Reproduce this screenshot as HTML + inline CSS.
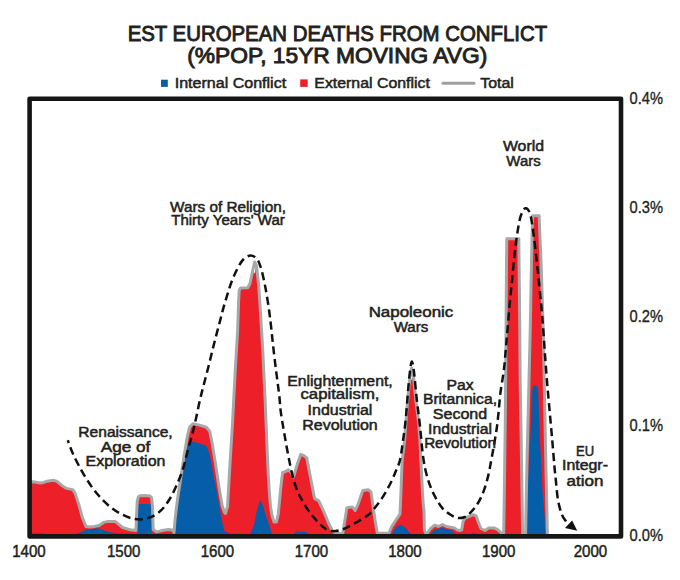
<!DOCTYPE html>
<html><head><meta charset="utf-8"><style>
html,body{margin:0;padding:0;background:#fff;}
svg{display:block;font-family:"Liberation Sans", sans-serif;}
</style></head><body>
<svg width="680" height="580" viewBox="0 0 680 580">
<rect width="680" height="580" fill="#fff"/>
<polygon points="30.0,535.5 30.0,482.0 33.0,481.8 40.1,483.0 43.7,482.4 47.3,481.2 53.3,480.2 57.0,481.4 61.8,485.4 66.6,488.4 72.7,489.6 75.1,493.2 78.7,504.1 82.3,517.4 85.9,526.4 90.0,527.0 94.5,526.5 99.1,525.5 103.5,522.4 107.2,521.6 115.3,521.6 118.2,523.9 122.6,527.5 130.0,529.7 135.9,530.5 137.2,501.5 138.5,496.5 140.0,495.7 145.0,495.5 150.0,496.1 151.5,497.5 152.5,506.5 153.2,529.5 156.5,531.9 162.4,530.5 168.2,529.5 172.5,530.0 174.0,532.4 175.1,519.0 177.3,501.0 180.7,478.7 184.0,456.3 187.4,436.1 189.6,427.2 193.0,423.8 198.6,424.9 206.4,427.2 209.8,431.6 212.0,442.8 215.4,463.0 218.7,485.4 222.1,505.5 224.3,512.2 225.5,513.5 227.5,506.5 230.0,464.0 232.6,421.5 235.2,371.5 237.6,331.5 238.6,301.5 239.2,290.5 240.5,288.0 247.8,287.7 250.0,283.5 252.5,271.5 254.7,273.3 256.4,265.5 258.5,283.5 259.8,301.5 262.8,351.5 265.2,401.5 266.0,421.5 267.0,446.5 268.3,475.5 269.3,491.5 270.5,506.5 272.0,515.5 274.0,522.0 276.5,522.0 278.3,513.9 280.9,486.3 282.6,472.5 285.2,471.7 288.6,469.9 291.5,473.0 293.5,477.0 297.5,463.5 300.7,454.4 303.3,455.3 306.7,457.9 310.2,476.0 314.5,498.4 318.8,501.0 324.0,512.2 329.1,524.3 332.6,531.2 335.0,532.9 341.6,534.0 342.8,533.3 346.9,507.7 352.4,507.1 355.2,510.5 358.0,504.3 362.8,490.5 368.3,489.8 371.0,491.9 373.1,507.1 375.2,520.9 377.3,533.3 389.0,533.3 391.8,526.4 397.3,518.1 400.0,514.0 400.8,496.0 402.1,461.5 404.5,441.5 407.5,401.5 410.0,376.5 411.6,380.0 413.5,376.5 416.0,401.5 418.5,421.5 420.0,441.5 421.7,477.5 423.0,501.5 424.0,511.5 424.4,530.3 426.2,534.8 430.6,528.5 434.6,525.2 438.5,526.5 442.5,524.5 446.5,526.5 450.4,527.2 454.4,527.9 457.0,529.9 459.7,530.5 461.7,529.9 463.0,521.9 465.0,518.0 470.3,516.0 473.0,514.7 476.2,516.0 478.2,521.9 480.9,528.5 484.9,530.5 488.8,527.9 494.1,527.9 498.0,529.9 500.7,532.5 502.7,533.9 503.7,534.5 504.5,481.5 505.5,401.5 506.0,336.5 506.5,261.5 506.8,238.8 518.8,238.8 519.5,301.5 520.2,381.5 521.5,461.5 522.6,534.5 525.6,534.5 527.0,461.5 528.5,401.5 530.2,331.5 531.5,261.5 532.6,215.8 539.1,215.8 541.0,261.5 543.3,331.5 544.6,401.5 545.8,461.5 547.4,534.5 547.4,535.5" fill="#ed1f28"/>
<polygon points="30.0,535.5 30.0,533.0 40.0,533.0 45.0,534.0 72.0,534.5 76.3,534.0 80.0,532.6 84.7,530.3 87.4,529.7 97.6,528.2 102.0,529.7 109.4,531.9 118.2,533.4 135.9,534.1 137.6,534.0 138.2,504.0 150.8,504.0 151.5,534.0 157.0,534.0 174.0,534.0 175.0,530.9 175.6,517.5 177.6,499.5 181.0,477.2 184.3,454.8 186.8,445.0 190.7,441.3 196.3,442.5 206.4,445.8 209.8,454.8 213.1,472.7 216.5,490.6 219.8,508.5 222.1,521.9 224.3,530.9 230.0,533.8 250.0,534.0 254.0,525.0 257.0,510.0 259.5,502.0 261.0,500.3 263.0,506.0 265.3,514.1 269.7,526.2 272.2,535.0 293.0,535.0 295.0,532.5 297.0,531.5 305.0,531.5 307.0,532.5 309.0,535.0 390.5,535.0 392.4,533.0 396.3,527.0 400.0,525.0 401.7,525.0 405.6,528.0 407.2,529.7 410.8,534.0 430.7,534.0 433.2,531.0 437.2,529.0 442.5,527.7 446.5,529.0 451.8,530.4 455.0,533.7 470.0,534.0 473.0,532.5 477.0,534.0 525.4,534.0 526.2,515.0 527.5,490.0 529.0,460.0 530.3,440.0 531.5,406.0 532.3,390.0 533.5,385.5 537.0,385.5 538.2,390.0 538.7,406.0 539.9,440.0 541.0,460.0 542.4,490.0 544.5,515.0 545.6,534.0 545.6,535.5" fill="#065da8"/>
<polyline points="30.0,482.0 33.0,481.8 40.1,483.0 43.7,482.4 47.3,481.2 53.3,480.2 57.0,481.4 61.8,485.4 66.6,488.4 72.7,489.6 75.1,493.2 78.7,504.1 82.3,517.4 85.9,526.4 90.0,527.0 94.5,526.5 99.1,525.5 103.5,522.4 107.2,521.6 115.3,521.6 118.2,523.9 122.6,527.5 130.0,529.7 135.9,530.5 137.2,501.5 138.5,496.5 140.0,495.7 145.0,495.5 150.0,496.1 151.5,497.5 152.5,506.5 153.2,529.5 156.5,531.9 162.4,530.5 168.2,529.5 172.5,530.0 174.0,532.4 175.1,519.0 177.3,501.0 180.7,478.7 184.0,456.3 187.4,436.1 189.6,427.2 193.0,423.8 198.6,424.9 206.4,427.2 209.8,431.6 212.0,442.8 215.4,463.0 218.7,485.4 222.1,505.5 224.3,512.2 225.5,513.5 227.5,506.5 230.0,464.0 232.6,421.5 235.2,371.5 237.6,331.5 238.6,301.5 239.2,290.5 240.5,288.0 247.8,287.7 250.0,283.5 252.5,271.5 254.7,262.0 256.4,265.5 258.5,283.5 259.8,301.5 262.8,351.5 265.2,401.5 266.0,421.5 267.0,446.5 268.3,475.5 269.3,491.5 270.5,506.5 272.0,515.5 274.0,522.0 276.5,522.0 278.3,513.9 280.9,486.3 282.6,472.5 285.2,471.7 288.6,469.9 291.5,473.0 293.5,477.0 297.5,463.5 300.7,454.4 303.3,455.3 306.7,457.9 310.2,476.0 314.5,498.4 318.8,501.0 324.0,512.2 329.1,524.3 332.6,531.2 335.0,532.9 341.6,534.0 342.8,533.3 346.9,507.7 352.4,507.1 355.2,510.5 358.0,504.3 362.8,490.5 368.3,489.8 371.0,491.9 373.1,507.1 375.2,520.9 377.3,533.3 389.0,533.3 391.8,526.4 397.3,518.1 400.0,514.0 400.8,496.0 402.1,461.5 404.5,441.5 407.5,401.5 410.0,376.5 411.6,368.0 413.5,376.5 416.0,401.5 418.5,421.5 420.0,441.5 421.7,477.5 423.0,501.5 424.0,511.5 424.4,530.3 426.2,534.8 430.6,528.5 434.6,525.2 438.5,526.5 442.5,524.5 446.5,526.5 450.4,527.2 454.4,527.9 457.0,529.9 459.7,530.5 461.7,529.9 463.0,521.9 465.0,518.0 470.3,516.0 473.0,514.7 476.2,516.0 478.2,521.9 480.9,528.5 484.9,530.5 488.8,527.9 494.1,527.9 498.0,529.9 500.7,532.5 502.7,533.9 503.7,534.5 504.5,481.5 505.5,401.5 506.0,336.5 506.5,261.5 506.8,238.8 518.8,238.8 519.5,301.5 520.2,381.5 521.5,461.5 522.6,534.5 525.6,534.5 527.0,461.5 528.5,401.5 530.2,331.5 531.5,261.5 532.6,215.8 539.1,215.8 541.0,261.5 543.3,331.5 544.6,401.5 545.8,461.5 547.4,534.5" fill="none" stroke="#a8a8a8" stroke-width="3" stroke-linejoin="round"/>
<path d="M566.0,521.5 C565.3,520.2 563.0,517.5 561.7,514.0 C560.4,510.5 559.1,506.0 558.1,500.7 C557.1,495.4 556.6,487.9 556.0,482.0 C555.4,476.1 554.9,472.0 554.3,465.0 C553.7,458.0 553.0,448.7 552.2,440.0 C551.5,431.3 550.6,422.0 549.8,412.8 C549.0,403.6 548.1,394.2 547.3,385.0 C546.5,375.8 545.9,366.7 545.2,357.6 C544.5,348.5 544.0,339.3 543.3,330.3 C542.6,321.3 542.1,314.2 541.1,303.7 C540.1,293.2 538.6,278.8 537.4,267.5 C536.2,256.2 535.0,245.0 533.8,236.1 C532.6,227.2 531.6,218.9 530.2,214.3 C528.8,209.7 527.0,207.9 525.4,208.3 C523.8,208.7 521.9,212.1 520.5,216.7 C519.1,221.3 517.9,229.6 516.9,236.1 C515.9,242.6 515.3,248.2 514.5,255.4 C513.7,262.6 512.9,271.4 512.1,279.5 C511.3,287.6 510.5,295.3 509.7,303.7 C508.9,312.1 508.2,322.2 507.5,330.0 C506.8,337.8 506.3,343.8 505.7,350.7 C505.1,357.6 504.6,364.6 503.7,371.5 C502.8,378.4 501.4,385.3 500.5,392.2 C499.6,399.1 499.2,406.6 498.5,412.9 C497.8,419.2 497.4,424.1 496.5,430.0 C495.6,435.9 494.3,443.4 493.4,448.6 C492.5,453.8 492.0,456.3 491.1,461.0 C490.2,465.7 489.3,471.4 488.0,476.6 C486.7,481.8 485.1,487.5 483.3,492.1 C481.5,496.8 479.4,500.9 477.1,504.5 C474.8,508.1 471.3,511.8 469.3,513.9 C467.3,516.0 466.9,516.3 465.0,517.0 C463.1,517.7 460.3,518.3 458.0,518.0 C455.7,517.7 453.6,516.6 451.0,515.0 C448.4,513.4 445.0,511.0 442.6,508.4 C440.2,505.8 438.2,502.2 436.4,499.1 C434.6,496.0 433.1,493.2 431.7,489.8 C430.3,486.4 429.0,482.8 427.8,478.9 C426.6,475.0 425.6,471.1 424.7,466.5 C423.8,461.9 423.0,456.2 422.4,451.0 C421.8,445.8 421.4,440.7 420.9,435.5 C420.4,430.3 420.0,426.0 419.3,420.0 C418.6,414.0 417.7,407.5 416.8,399.5 C415.9,391.5 414.8,378.3 414.0,372.0 C413.2,365.7 412.5,361.6 411.8,361.6 C411.1,361.6 410.5,367.1 409.9,372.0 C409.3,376.9 408.7,383.5 408.0,391.3 C407.3,399.1 406.6,410.6 405.8,418.8 C405.0,427.1 404.0,433.9 403.0,440.8 C402.0,447.7 401.2,455.0 400.0,460.0 C398.8,465.0 397.5,467.1 395.9,471.0 C394.3,474.9 392.5,479.4 390.4,483.5 C388.3,487.6 385.8,492.2 383.5,495.9 C381.2,499.6 378.9,502.6 376.6,505.6 C374.3,508.6 372.2,511.5 369.7,513.8 C367.2,516.1 364.4,517.5 361.4,519.4 C358.4,521.2 354.8,523.3 351.8,524.9 C348.8,526.5 346.3,528.0 343.5,529.0 C340.7,530.0 338.0,531.0 335.2,531.1 C332.4,531.2 329.9,531.3 326.9,529.7 C323.9,528.1 321.2,525.8 317.4,521.5 C313.6,517.2 308.1,511.2 304.0,503.8 C299.9,496.4 296.7,491.4 293.0,477.4 C289.3,463.4 284.3,433.7 282.0,420.0 C279.7,406.3 280.2,403.3 279.2,395.0 C278.2,386.7 277.1,378.7 276.0,370.0 C274.9,361.3 273.6,350.4 272.8,343.0 C272.0,335.6 271.6,331.1 271.0,325.9 C270.4,320.7 270.0,317.2 269.3,312.0 C268.6,306.8 267.6,300.0 266.7,294.8 C265.8,289.6 265.1,285.6 264.1,281.0 C263.1,276.4 261.9,270.8 260.7,267.2 C259.5,263.6 258.8,261.1 257.2,259.2 C255.5,257.2 253.1,255.5 250.8,255.5 C248.6,255.5 245.9,256.8 243.7,259.0 C241.5,261.2 239.5,264.7 237.5,268.5 C235.5,272.3 233.3,277.3 231.5,282.0 C229.7,286.7 228.2,291.9 226.8,296.5 C225.4,301.1 224.2,304.9 223.0,309.3 C221.8,313.7 220.9,317.7 219.5,323.0 C218.1,328.3 216.3,334.8 214.7,341.3 C213.0,347.8 211.3,355.1 209.6,362.0 C207.9,368.9 205.9,376.5 204.3,382.7 C202.7,388.9 201.5,393.2 200.1,399.2 C198.7,405.2 197.2,413.1 195.9,418.9 C194.6,424.7 193.7,428.8 192.3,434.1 C190.9,439.4 189.2,445.1 187.7,450.6 C186.2,456.1 185.2,461.6 183.5,467.1 C181.8,472.6 179.8,478.0 177.4,483.5 C175.0,489.0 172.2,495.2 169.1,500.0 C166.0,504.8 162.6,509.3 158.8,512.4 C155.0,515.5 150.6,517.4 146.5,518.5 C142.4,519.6 138.2,519.6 134.1,518.9 C130.0,518.2 125.9,516.5 121.8,514.4 C117.7,512.3 113.5,509.6 109.4,506.2 C105.3,502.8 100.9,498.3 97.1,493.8 C93.3,489.3 89.9,484.2 86.8,479.4 C83.7,474.6 80.9,469.5 78.5,465.0 C76.1,460.5 74.2,456.7 72.4,452.6 C70.6,448.5 68.6,442.4 67.8,440.3" fill="none" stroke="#111" stroke-width="2.5" stroke-dasharray="8 4.5"/>
<polygon points="565,528.1 572.1,520.4 577.3,530.7" fill="#111"/>
<path d="M29.6,536.4 V98.7 H621 V536.4 Z" fill="none" stroke="#161616" stroke-width="4.6" stroke-linejoin="round"/>
<text x="337.4" y="41.2" font-size="21.3" text-anchor="middle" fill="#231f20" stroke="#231f20" stroke-width="0.9" textLength="419.5" lengthAdjust="spacingAndGlyphs">EST EUROPEAN DEATHS FROM CONFLICT</text>
<text x="337.3" y="62.6" font-size="21.3" text-anchor="middle" fill="#231f20" stroke="#231f20" stroke-width="0.9" textLength="300" lengthAdjust="spacingAndGlyphs">(%POP, 15YR MOVING AVG)</text>
<rect x="161" y="79.7" width="6.8" height="7.2" fill="#065da8"/>
<text x="174.7" y="87.6" font-size="14" text-anchor="start" fill="#231f20" stroke="#231f20" stroke-width="0.5" textLength="111.5" lengthAdjust="spacingAndGlyphs">Internal Conflict</text>
<rect x="300.2" y="79.4" width="7.5" height="7.5" fill="#ed1f28"/>
<text x="314.3" y="87.6" font-size="14" text-anchor="start" fill="#231f20" stroke="#231f20" stroke-width="0.5" textLength="115.6" lengthAdjust="spacingAndGlyphs">External Conflict</text>
<line x1="443" y1="83.2" x2="474" y2="83.2" stroke="#a0a0a0" stroke-width="3" stroke-linecap="round"/>
<text x="480.3" y="87.8" font-size="14" text-anchor="start" fill="#231f20" stroke="#231f20" stroke-width="0.5" textLength="33.6" lengthAdjust="spacingAndGlyphs">Total</text>
<text x="629.5" y="104.3" font-size="16.5" text-anchor="start" fill="#231f20" stroke="#231f20" stroke-width="0.35" textLength="33.5" lengthAdjust="spacingAndGlyphs">0.4%</text>
<text x="629.5" y="212.8" font-size="16.5" text-anchor="start" fill="#231f20" stroke="#231f20" stroke-width="0.35" textLength="33.5" lengthAdjust="spacingAndGlyphs">0.3%</text>
<text x="629.5" y="321.9" font-size="16.5" text-anchor="start" fill="#231f20" stroke="#231f20" stroke-width="0.35" textLength="33.5" lengthAdjust="spacingAndGlyphs">0.2%</text>
<text x="629.5" y="431.2" font-size="16.5" text-anchor="start" fill="#231f20" stroke="#231f20" stroke-width="0.35" textLength="33.5" lengthAdjust="spacingAndGlyphs">0.1%</text>
<text x="629.5" y="540.5" font-size="16.5" text-anchor="start" fill="#231f20" stroke="#231f20" stroke-width="0.35" textLength="33.5" lengthAdjust="spacingAndGlyphs">0.0%</text>
<text x="29" y="557" font-size="16.5" text-anchor="middle" fill="#231f20" stroke="#231f20" stroke-width="0.5" textLength="33.5" lengthAdjust="spacingAndGlyphs">1400</text>
<text x="123.75" y="557" font-size="16.5" text-anchor="middle" fill="#231f20" stroke="#231f20" stroke-width="0.5" textLength="33.5" lengthAdjust="spacingAndGlyphs">1500</text>
<text x="217.5" y="557" font-size="16.5" text-anchor="middle" fill="#231f20" stroke="#231f20" stroke-width="0.5" textLength="33.5" lengthAdjust="spacingAndGlyphs">1600</text>
<text x="311.5" y="557" font-size="16.5" text-anchor="middle" fill="#231f20" stroke="#231f20" stroke-width="0.5" textLength="33.5" lengthAdjust="spacingAndGlyphs">1700</text>
<text x="405" y="557" font-size="16.5" text-anchor="middle" fill="#231f20" stroke="#231f20" stroke-width="0.5" textLength="33.5" lengthAdjust="spacingAndGlyphs">1800</text>
<text x="498.75" y="557" font-size="16.5" text-anchor="middle" fill="#231f20" stroke="#231f20" stroke-width="0.5" textLength="33.5" lengthAdjust="spacingAndGlyphs">1900</text>
<text x="590.4" y="557" font-size="16.5" text-anchor="middle" fill="#231f20" stroke="#231f20" stroke-width="0.5" textLength="33.5" lengthAdjust="spacingAndGlyphs">2000</text>
<text x="228" y="211.6" font-size="14" text-anchor="middle" fill="#231f20" stroke="#231f20" stroke-width="0.5" textLength="115.8" lengthAdjust="spacingAndGlyphs">Wars of Religion,</text>
<text x="228" y="225.4" font-size="14" text-anchor="middle" fill="#231f20" stroke="#231f20" stroke-width="0.5" textLength="113.6" lengthAdjust="spacingAndGlyphs">Thirty Years' War</text>
<text x="125.5" y="437" font-size="14" text-anchor="middle" fill="#231f20" stroke="#231f20" stroke-width="0.5" textLength="94.3" lengthAdjust="spacingAndGlyphs">Renaissance,</text>
<text x="125.5" y="451.5" font-size="14" text-anchor="middle" fill="#231f20" stroke="#231f20" stroke-width="0.5" textLength="49.6" lengthAdjust="spacingAndGlyphs">Age of</text>
<text x="125.5" y="466" font-size="14" text-anchor="middle" fill="#231f20" stroke="#231f20" stroke-width="0.5" textLength="79.8" lengthAdjust="spacingAndGlyphs">Exploration</text>
<text x="340" y="385.8" font-size="14" text-anchor="middle" fill="#231f20" stroke="#231f20" stroke-width="0.5" textLength="105.5" lengthAdjust="spacingAndGlyphs">Enlightenment,</text>
<text x="340" y="399.4" font-size="14" text-anchor="middle" fill="#231f20" stroke="#231f20" stroke-width="0.5" textLength="79.0" lengthAdjust="spacingAndGlyphs">capitalism,</text>
<text x="340" y="415.3" font-size="14" text-anchor="middle" fill="#231f20" stroke="#231f20" stroke-width="0.5" textLength="64.8" lengthAdjust="spacingAndGlyphs">Industrial</text>
<text x="340" y="429.9" font-size="14" text-anchor="middle" fill="#231f20" stroke="#231f20" stroke-width="0.5" textLength="75.4" lengthAdjust="spacingAndGlyphs">Revolution</text>
<text x="411" y="317.1" font-size="14" text-anchor="middle" fill="#231f20" stroke="#231f20" stroke-width="0.5" textLength="84.7" lengthAdjust="spacingAndGlyphs">Napoleonic</text>
<text x="411" y="332.4" font-size="14" text-anchor="middle" fill="#231f20" stroke="#231f20" stroke-width="0.5" textLength="34.6" lengthAdjust="spacingAndGlyphs">Wars</text>
<text x="460" y="389.9" font-size="14" text-anchor="middle" fill="#231f20" stroke="#231f20" stroke-width="0.5" textLength="27.1" lengthAdjust="spacingAndGlyphs">Pax</text>
<text x="460" y="403.5" font-size="14" text-anchor="middle" fill="#231f20" stroke="#231f20" stroke-width="0.5" textLength="74.1" lengthAdjust="spacingAndGlyphs">Britannica,</text>
<text x="460" y="418.5" font-size="14" text-anchor="middle" fill="#231f20" stroke="#231f20" stroke-width="0.5" textLength="54.4" lengthAdjust="spacingAndGlyphs">Second</text>
<text x="460" y="433.5" font-size="14" text-anchor="middle" fill="#231f20" stroke="#231f20" stroke-width="0.5" textLength="63.8" lengthAdjust="spacingAndGlyphs">Industrial</text>
<text x="460" y="448" font-size="14" text-anchor="middle" fill="#231f20" stroke="#231f20" stroke-width="0.5" textLength="71.7" lengthAdjust="spacingAndGlyphs">Revolution</text>
<text x="523.5" y="151.4" font-size="14" text-anchor="middle" fill="#231f20" stroke="#231f20" stroke-width="0.5" textLength="41.1" lengthAdjust="spacingAndGlyphs">World</text>
<text x="523.5" y="165.9" font-size="14" text-anchor="middle" fill="#231f20" stroke="#231f20" stroke-width="0.5" textLength="34.3" lengthAdjust="spacingAndGlyphs">Wars</text>
<text x="585" y="455.6" font-size="14" text-anchor="middle" fill="#231f20" stroke="#231f20" stroke-width="0.5" textLength="18.1" lengthAdjust="spacingAndGlyphs">EU</text>
<text x="585" y="470.4" font-size="14" text-anchor="middle" fill="#231f20" stroke="#231f20" stroke-width="0.5" textLength="45.9" lengthAdjust="spacingAndGlyphs">Integr-</text>
<text x="585" y="485.5" font-size="14" text-anchor="middle" fill="#231f20" stroke="#231f20" stroke-width="0.5" textLength="36.9" lengthAdjust="spacingAndGlyphs">ation</text>
</svg>
</body></html>
